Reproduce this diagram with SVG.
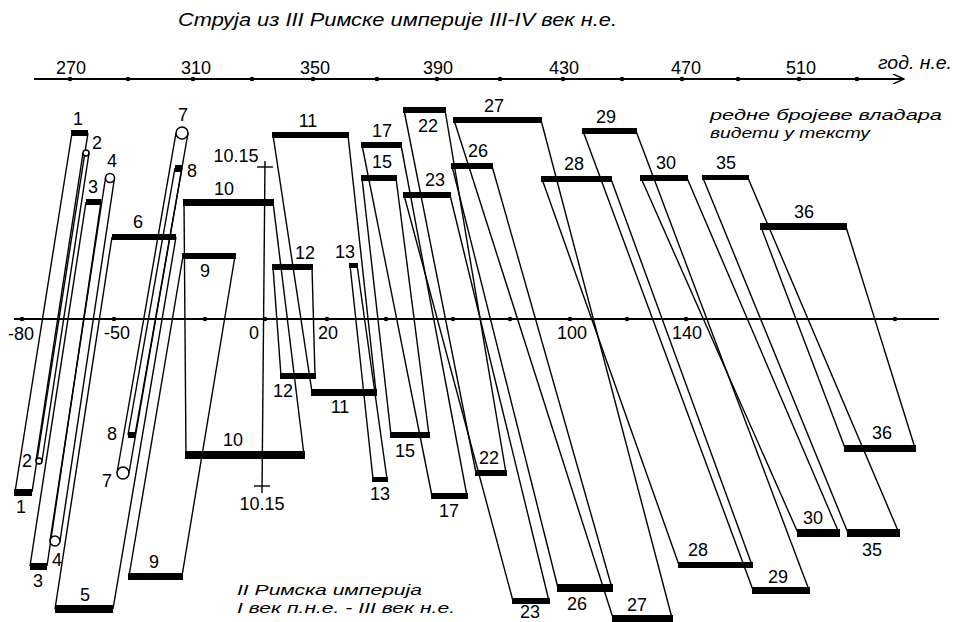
<svg xmlns="http://www.w3.org/2000/svg" width="954" height="622" viewBox="0 0 954 622">
<defs>
<marker id="arr" markerWidth="12" markerHeight="10" refX="11" refY="5" orient="auto" markerUnits="userSpaceOnUse">
<path d="M0,0 L11,5 L0,10" fill="none" stroke="#000" stroke-width="1.5"/>
</marker>
</defs>
<style>
text{font-family:"Liberation Sans",Arial,sans-serif;fill:#000}
.n{font-size:18px;text-anchor:middle}
.it{font-size:18px;font-style:italic}
.it2{font-size:15.5px;font-style:italic}
.ln{stroke:#000;stroke-width:1.4;fill:none}
.ax{stroke:#000;stroke-width:2;fill:none}
.bar{fill:#000}
.c{fill:#fff;stroke:#000;stroke-width:1.5}
.dot{fill:#000}
</style>
<rect width="954" height="622" fill="#fff"/>

<text class="it" x="178" y="26" textLength="439" lengthAdjust="spacingAndGlyphs">Струја из III Римске империје III-IV век н.е.</text>
<text class="it" x="878" y="69" textLength="74" lengthAdjust="spacingAndGlyphs">год. н.е.</text>
<text class="it2" x="710" y="120" textLength="232" lengthAdjust="spacingAndGlyphs">редне бројеве владара</text>
<text class="it2" x="710" y="138" textLength="160" lengthAdjust="spacingAndGlyphs">видети у тексту</text>
<text class="it2" x="237" y="595" textLength="185" lengthAdjust="spacingAndGlyphs">II Римска империја</text>
<text class="it2" x="237" y="613" textLength="218" lengthAdjust="spacingAndGlyphs">I век п.н.е. - III век н.е.</text>

<g id="top-axis">
<line class="ax" x1="34" y1="79" x2="904" y2="79" marker-end="url(#arr)"/>
<g class="dot">
<circle cx="70" cy="79" r="2.3"/><circle cx="128" cy="79" r="2.3"/><circle cx="193" cy="79" r="2.3"/><circle cx="252" cy="79" r="2.3"/><circle cx="313" cy="79" r="2.3"/><circle cx="377" cy="79" r="2.3"/><circle cx="437" cy="79" r="2.3"/><circle cx="500" cy="79" r="2.3"/><circle cx="563" cy="79" r="2.3"/><circle cx="622" cy="79" r="2.3"/><circle cx="682" cy="79" r="2.3"/><circle cx="738" cy="79" r="2.3"/><circle cx="799" cy="79" r="2.3"/><circle cx="857" cy="79" r="2.3"/>
</g>
<text class="n" x="71" y="74">270</text>
<text class="n" x="196" y="74">310</text>
<text class="n" x="315" y="74">350</text>
<text class="n" x="438" y="74">390</text>
<text class="n" x="564" y="74">430</text>
<text class="n" x="686" y="74">470</text>
<text class="n" x="801" y="74">510</text>
</g>

<g id="bottom-axis">
<line class="ax" x1="14" y1="319" x2="939" y2="319"/>
<g class="dot">
<circle cx="22" cy="319" r="2.3"/><circle cx="114" cy="319" r="2.3"/><circle cx="205" cy="319" r="2.3"/><circle cx="265" cy="319" r="2.3"/><circle cx="327" cy="319" r="2.3"/><circle cx="386" cy="319" r="2.3"/><circle cx="453" cy="319" r="2.3"/><circle cx="510" cy="319" r="2.3"/><circle cx="570" cy="319" r="2.3"/><circle cx="627" cy="319" r="2.3"/><circle cx="686" cy="319" r="2.3"/><circle cx="895" cy="319" r="2.3"/>
</g>
<text class="n" x="21" y="340">-80</text>
<text class="n" x="117" y="339">-50</text>
<text class="n" x="254" y="339">0</text>
<text class="n" x="328" y="339">20</text>
<text class="n" x="572" y="339">100</text>
<text class="n" x="687" y="339">140</text>
</g>

<g id="marker-10-15">
<line class="ln" x1="265" y1="161" x2="262" y2="493"/>
<line class="ln" x1="257" y1="167" x2="273" y2="167"/>
<line class="ln" x1="254" y1="486" x2="270" y2="486"/>
<text class="n" x="236" y="162">10.15</text>
<text class="n" x="262" y="510">10.15</text>
</g>

<g id="connectors">
<line class="ln" x1="72" y1="133" x2="15" y2="492"/><line class="ln" x1="88" y1="133" x2="32" y2="492"/>
<line class="ln" x1="83" y1="153" x2="36" y2="461"/><line class="ln" x1="89" y1="153" x2="42" y2="461"/>
<line class="ln" x1="86" y1="202" x2="30" y2="566"/><line class="ln" x1="101" y1="202" x2="47" y2="566"/>
<line class="ln" x1="105.5" y1="178" x2="50" y2="541"/><line class="ln" x1="114.5" y1="178" x2="60" y2="541"/>
<line class="ln" x1="112" y1="237" x2="55" y2="609"/><line class="ln" x1="176" y1="237" x2="113" y2="609"/>
<line class="ln" x1="176" y1="133" x2="117" y2="473"/><line class="ln" x1="188" y1="133" x2="129" y2="473"/>
<line class="ln" x1="175" y1="168" x2="128" y2="435"/><line class="ln" x1="182" y1="168" x2="135" y2="435"/>
<line class="ln" x1="183" y1="256" x2="129" y2="576"/><line class="ln" x1="235" y1="256" x2="182" y2="576"/>
<line class="ln" x1="184" y1="202" x2="186" y2="455"/><line class="ln" x1="273" y1="202" x2="304" y2="455"/>
<line class="ln" x1="273" y1="135" x2="312" y2="392"/><line class="ln" x1="348" y1="135" x2="376" y2="392"/>
<line class="ln" x1="273" y1="267" x2="281" y2="376"/><line class="ln" x1="312" y1="267" x2="315" y2="376"/>
<line class="ln" x1="350" y1="265" x2="373" y2="479"/><line class="ln" x1="357" y1="265" x2="387" y2="479"/>
<line class="ln" x1="362" y1="178" x2="391" y2="435"/><line class="ln" x1="396" y1="178" x2="429" y2="435"/>
<line class="ln" x1="362" y1="145" x2="432" y2="496"/><line class="ln" x1="401" y1="145" x2="467" y2="496"/>
<line class="ln" x1="404" y1="110" x2="476" y2="473"/><line class="ln" x1="445" y1="110" x2="506" y2="473"/>
<line class="ln" x1="404" y1="195" x2="513" y2="601"/><line class="ln" x1="450" y1="195" x2="549" y2="601"/>
<line class="ln" x1="452" y1="166" x2="558" y2="588"/><line class="ln" x1="492" y1="166" x2="612" y2="588"/>
<line class="ln" x1="454" y1="120" x2="613" y2="618"/><line class="ln" x1="541" y1="120" x2="672" y2="618"/>
<line class="ln" x1="542" y1="179" x2="679" y2="565"/><line class="ln" x1="611" y1="179" x2="752" y2="565"/>
<line class="ln" x1="583" y1="131" x2="753" y2="590"/><line class="ln" x1="636" y1="131" x2="809" y2="590"/>
<line class="ln" x1="641" y1="178" x2="798" y2="533"/><line class="ln" x1="687" y1="178" x2="839" y2="533"/>
<line class="ln" x1="703" y1="178" x2="848" y2="533"/><line class="ln" x1="748" y1="178" x2="899" y2="533"/>
<line class="ln" x1="761" y1="227" x2="845" y2="448"/><line class="ln" x1="846" y1="227" x2="915" y2="448"/>
</g>

<g id="r1"><rect class="bar" x="71" y="130" width="17" height="6"/><rect class="bar" x="14" y="489" width="18" height="7"/><text class="n" x="78" y="125">1</text><text class="n" x="21" y="513">1</text></g>
<g id="r2"><circle class="c" cx="86" cy="153" r="3"/><circle class="c" cx="39" cy="461" r="3"/><text class="n" x="97" y="149">2</text><text class="n" x="27" y="467">2</text></g>
<g id="r3"><rect class="bar" x="86" y="199" width="15" height="6"/><rect class="bar" x="30" y="563" width="17" height="7"/><text class="n" x="93" y="193">3</text><text class="n" x="38" y="587">3</text></g>
<g id="r4"><circle class="c" cx="110" cy="178" r="4.5"/><circle class="c" cx="55" cy="541" r="5"/><text class="n" x="112" y="167">4</text><text class="n" x="57" y="566">4</text></g>
<g id="r5-6"><rect class="bar" x="112" y="234" width="64" height="6"/><rect class="bar" x="55" y="605" width="58" height="8"/><text class="n" x="138" y="228">6</text><text class="n" x="85" y="601">5</text></g>
<g id="r7"><circle class="c" cx="182" cy="133" r="6"/><circle class="c" cx="123" cy="473" r="6"/><text class="n" x="183" y="121">7</text><text class="n" x="107" y="487">7</text></g>
<g id="r8"><rect class="bar" x="175" y="165" width="7" height="7"/><rect class="bar" x="128" y="432" width="7" height="6"/><text class="n" x="192" y="177">8</text><text class="n" x="112" y="440">8</text></g>
<g id="r9"><rect class="bar" x="182" y="253" width="54" height="6"/><rect class="bar" x="128" y="573" width="55" height="7"/><text class="n" x="205" y="277">9</text><text class="n" x="154" y="568">9</text></g>
<g id="r10"><rect class="bar" x="183" y="199" width="91" height="7"/><rect class="bar" x="185" y="451" width="120" height="8"/><text class="n" x="224" y="195">10</text><text class="n" x="233" y="446">10</text></g>
<g id="r11"><rect class="bar" x="272" y="132" width="77" height="6"/><rect class="bar" x="311" y="389" width="66" height="7"/><text class="n" x="308" y="127">11</text><text class="n" x="340" y="413">11</text></g>
<g id="r12"><rect class="bar" x="272" y="264" width="41" height="6"/><rect class="bar" x="280" y="373" width="36" height="6"/><text class="n" x="305" y="259">12</text><text class="n" x="283" y="397">12</text></g>
<g id="r13"><rect class="bar" x="349" y="263" width="9" height="5"/><rect class="bar" x="372" y="477" width="16" height="5"/><text class="n" x="345" y="258">13</text><text class="n" x="380" y="500">13</text></g>
<g id="r15"><rect class="bar" x="361" y="175" width="36" height="6"/><rect class="bar" x="390" y="432" width="40" height="6"/><text class="n" x="382" y="168">15</text><text class="n" x="405" y="457">15</text></g>
<g id="r17"><rect class="bar" x="361" y="142" width="41" height="6"/><rect class="bar" x="431" y="493" width="37" height="6"/><text class="n" x="382" y="137">17</text><text class="n" x="449" y="517">17</text></g>
<g id="r22"><rect class="bar" x="403" y="107" width="43" height="6"/><rect class="bar" x="475" y="470" width="32" height="6"/><text class="n" x="428" y="132">22</text><text class="n" x="489" y="464">22</text></g>
<g id="r23"><rect class="bar" x="403" y="192" width="48" height="6"/><rect class="bar" x="512" y="598" width="38" height="6"/><text class="n" x="435" y="186">23</text><text class="n" x="530" y="618">23</text></g>
<g id="r26"><rect class="bar" x="451" y="163" width="42" height="6"/><rect class="bar" x="557" y="584" width="56" height="8"/><text class="n" x="478" y="157">26</text><text class="n" x="577" y="610">26</text></g>
<g id="r27"><rect class="bar" x="453" y="117" width="89" height="6"/><rect class="bar" x="612" y="615" width="61" height="7"/><text class="n" x="494" y="112">27</text><text class="n" x="637" y="611">27</text></g>
<g id="r28"><rect class="bar" x="541" y="176" width="71" height="6"/><rect class="bar" x="678" y="562" width="75" height="6"/><text class="n" x="574" y="170">28</text><text class="n" x="698" y="556">28</text></g>
<g id="r29"><rect class="bar" x="582" y="128" width="55" height="6"/><rect class="bar" x="752" y="587" width="58" height="7"/><text class="n" x="606" y="123">29</text><text class="n" x="778" y="583">29</text></g>
<g id="r30"><rect class="bar" x="640" y="175" width="48" height="6"/><rect class="bar" x="797" y="529" width="43" height="8"/><text class="n" x="666" y="169">30</text><text class="n" x="813" y="524">30</text></g>
<g id="r35"><rect class="bar" x="702" y="175" width="47" height="5"/><rect class="bar" x="847" y="529" width="53" height="8"/><text class="n" x="726" y="169">35</text><text class="n" x="872" y="556">35</text></g>
<g id="r36"><rect class="bar" x="760" y="223" width="87" height="7"/><rect class="bar" x="844" y="445" width="72" height="7"/><text class="n" x="804" y="218">36</text><text class="n" x="882" y="439">36</text></g>
</svg>
